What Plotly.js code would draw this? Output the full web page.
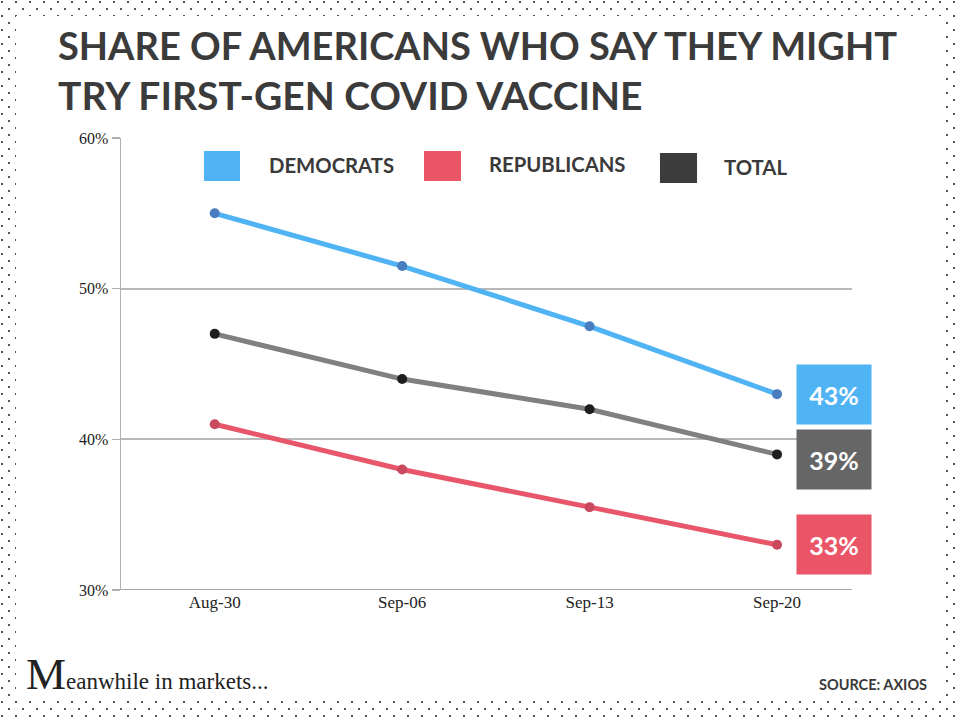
<!DOCTYPE html>
<html>
<head>
<meta charset="utf-8">
<script src="https://cdn.plot.ly/plotly-3.0.1.min.js"></script>
<style>
  html, body { margin: 0; padding: 0; width: 960px; height: 720px; overflow: hidden; background: #fff; }
  #frame {
    position: absolute; left: 0; top: 0; width: 960px; height: 720px;
    background-color: #fff;
    background-image:
      radial-gradient(circle, #555 1.1px, transparent 1.5px),
      radial-gradient(circle, #555 1.1px, transparent 1.5px);
    background-size: 14px 14px, 14px 14px;
    background-position: -5px -5px, 2px 2px;
  }
  #inner { position: absolute; left: 16px; top: 16px; width: 928px; height: 685px; background: #fff; }
  #chart { position: absolute; left: 0; top: 0; width: 960px; height: 720px; }
</style>
</head>
<body>
<div id="frame"></div>
<div id="inner"></div>
<div id="chart"></div>
<script>
const dates = ['Aug-30', 'Sep-06', 'Sep-13', 'Sep-20'];
const democrats = [55, 51.5, 47.5, 43];
const republicans = [41, 38, 35.5, 33];
const total = [47, 44, 42, 39];
const yTickVals = [30, 40, 50, 60];
const yTickText = ['30%', '40%', '50%', '60%'];
const seriesNames = ['DEMOCRATS', 'REPUBLICANS', 'TOTAL'];
const titleLines = ['SHARE OF AMERICANS WHO SAY THEY MIGHT', 'TRY FIRST-GEN COVID VACCINE'];

const blue = '#4fb3f4', red = '#e8566a', grey = '#808080';
const titleFont = 'Lato, "Open Sans", sans-serif';
const serif = '"Liberation Serif", "DejaVu Serif", serif';

function line(y, name, lineColor, markerColor) {
  return {
    x: dates, y: y, name: name, type: 'scatter', mode: 'lines+markers',
    line: {color: lineColor, width: 5},
    marker: {color: markerColor, size: 10},
    showlegend: false, hoverinfo: 'skip'
  };
}

const traces = [
  line(democrats, seriesNames[0], blue, '#4a7cc0'),
  line(total, seriesNames[2], grey, '#1e1e1e'),
  line(republicans, seriesNames[1], red, '#c94a5e')
];

// legend swatches and labels
const legendItems = [
  {name: seriesNames[0], color: '#4fb3f4', x0: 0.1135, x1: 0.1628, y0: 0.905, y1: 0.971, tx: 0.1997, ty: 0.94},
  {name: seriesNames[1], color: '#ea5568', x0: 0.4145, x1: 0.4651, y0: 0.905, y1: 0.971, tx: 0.5007, ty: 0.942},
  {name: seriesNames[2], color: '#3c3c3c', x0: 0.7373, x1: 0.788, y0: 0.9004, y1: 0.9668, tx: 0.822, ty: 0.936}
];
const shapes = legendItems.map(it => ({
  type: 'rect', xref: 'paper', yref: 'paper', x0: it.x0, x1: it.x1, y0: it.y0, y1: it.y1,
  fillcolor: it.color, line: {width: 0}
}));

const annotations = legendItems.map(it => ({
  xref: 'paper', yref: 'paper', x: it.tx, y: it.ty, xanchor: 'left', yanchor: 'middle',
  text: '<b>' + it.name + '</b>', showarrow: false,
  font: {family: titleFont, size: 20.3, color: '#3a3a3a'}
}));

// title lines
[[1.2058, 38], [1.0951, 39]].forEach((p, i) => {
  annotations.push({
    xref: 'paper', yref: 'paper', x: -0.0889, y: p[0], xanchor: 'left', yanchor: 'middle',
    text: '<b>' + titleLines[i] + '</b>', showarrow: false,
    font: {family: titleFont, size: p[1], color: '#3b3b3b'}
  });
});

// end value boxes
const endBoxes = [
  {vals: democrats, color: '#4fb3f4', shift: 0},
  {vals: total, color: '#666666', shift: -5},
  {vals: republicans, color: '#ea5568', shift: 0}
];
endBoxes.forEach(b => {
  const v = b.vals[b.vals.length - 1];
  annotations.push({
    xref: 'paper', yref: 'y', x: 0.976, y: v, yshift: b.shift,
    xanchor: 'center', yanchor: 'middle',
    text: '<b>' + v + '%</b>', showarrow: false, bgcolor: b.color, width: 72, height: 57,
    font: {family: titleFont, size: 25, color: '#ffffff'}
  });
});

// footer
annotations.push({
  xref: 'paper', yref: 'paper', x: -0.133, y: -0.186, xanchor: 'left', yanchor: 'middle',
  text: '<span style="font-size:45px">M</span>eanwhile in markets...', showarrow: false,
  font: {family: serif, size: 23, color: '#222'}
});
annotations.push({
  xref: 'paper', yref: 'paper', x: 1.105, y: -0.208, xanchor: 'right', yanchor: 'middle',
  text: '<b>SOURCE: AXIOS</b>', showarrow: false,
  font: {family: titleFont, size: 14.5, color: '#3a3a3a'}
});

const layout = {
  width: 960, height: 720,
  paper_bgcolor: 'rgba(0,0,0,0)', plot_bgcolor: 'rgba(0,0,0,0)',
  margin: {l: 121, r: 108, t: 138, b: 130},
  xaxis: {
    type: 'category', range: [-0.5, 3.4], showgrid: false, zeroline: false,
    showline: false, ticks: '',
    tickfont: {family: serif, size: 17, color: '#222'}
  },
  yaxis: {
    range: [30, 60], tickvals: yTickVals, ticktext: yTickText,
    showgrid: true, gridcolor: '#b8b8b8', gridwidth: 2,
    zeroline: false, showline: true, linecolor: '#b0b0b0', linewidth: 1.5,
    ticks: 'outside', ticklen: 8, tickcolor: '#b0b0b0', tickwidth: 1.5,
    tickfont: {family: serif, size: 16, color: '#222'}
  },
  shapes: shapes.concat([{
    type: 'line', xref: 'paper', yref: 'y', x0: 0, x1: 1, y0: 30, y1: 30,
    line: {color: '#a8a8a8', width: 2}
  }]),
  annotations: annotations,
  showlegend: false
};

Plotly.newPlot('chart', traces, layout, {displayModeBar: false, staticPlot: true});
</script>
</body>
</html>
